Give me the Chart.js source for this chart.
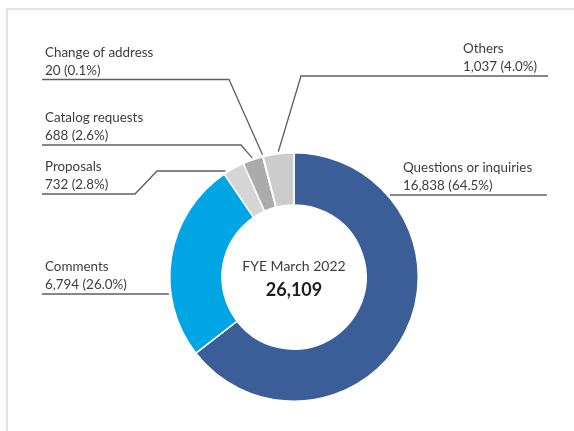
<!DOCTYPE html>
<html>
<head>
<meta charset="utf-8">
<title>Inquiries by type</title>
<script src="https://cdn.jsdelivr.net/npm/chart.js@4.4.1/dist/chart.umd.min.js"></script>
<style>
  html, body { margin: 0; padding: 0; background: #fff; }
  body { width: 574px; height: 431px; position: relative; overflow: hidden; }
  #frame {
    position: absolute; left: 6px; top: 8px; right: 0; bottom: 0;
    border-left: 2px solid #e3e3e3; border-top: 2px solid #e3e3e3;
  }
  #inquiryChart { position: absolute; left: 0; top: 0; }
</style>
</head>
<body>
<div id="frame"></div>
<canvas id="inquiryChart" width="574" height="431"></canvas>
<script>
// inquiry counts, FYE March 2022
var categories = ['Questions or inquiries', 'Comments', 'Proposals', 'Catalog requests', 'Change of address', 'Others'];
var counts = [16838, 6794, 732, 688, 20, 1037];
var sliceColors = ['#3b5e99', '#00a5e3', '#d5d5d5', '#ababab', '#8c8c8c', '#cccccc'];
var centerTitle = 'FYE March 2022';

// where each callout sits, and how its leader bends before reaching the ring
var calloutSpots = [
    { textX: 403, lineY: 195, knees: [[547, 195]], aim: 'level' },
    { textX: 45, lineY: 294, knees: [[42, 294]], aim: 'level' },
    { textX: 45, lineY: 194, knees: [[42, 194], [135, 194], [157, 171]], aim: 'level' },
    { textX: 45, lineY: 145, knees: [[42, 145], [241, 145]], aim: 'mid' },
    { textX: 45, lineY: 79.5, knees: [[42, 79.5], [229, 79.5]], aim: 'mid' },
    { textX: 463, lineY: 76, knees: [[548, 76], [301, 76]], aim: 'mid' }
];

var total = counts.reduce(function (a, b) { return a + b; }, 0);

function fmt(n) {
    return n.toLocaleString('en-US');
}

var calloutPlugin = {
    id: 'callouts',
    afterDraw: function (chart) {
        var ctx = chart.ctx;
        var meta = chart.getDatasetMeta(0);
        var gap = 2;
        ctx.save();

        for (var i = 0; i < meta.data.length; i++) {
            var arc = meta.data[i];
            var spot = calloutSpots[i];
            var r = arc.outerRadius + gap;
            var last = spot.knees[spot.knees.length - 1];
            var end;
            if (spot.aim === 'level') {
                var dy = last[1] - arc.y;
                var dx = Math.sqrt(r * r - dy * dy);
                end = [last[0] < arc.x ? arc.x - dx : arc.x + dx, last[1]];
            } else {
                var a = (arc.startAngle + arc.endAngle) / 2;
                end = [arc.x + Math.cos(a) * r, arc.y + Math.sin(a) * r];
            }

            ctx.strokeStyle = '#5f5f5f';
            ctx.lineWidth = 1.3;
            ctx.beginPath();
            ctx.moveTo(spot.knees[0][0], spot.knees[0][1]);
            for (var k = 1; k < spot.knees.length; k++) {
                ctx.lineTo(spot.knees[k][0], spot.knees[k][1]);
            }
            ctx.lineTo(end[0], end[1]);
            ctx.stroke();

            var pct = (counts[i] / total * 100).toFixed(1);
            ctx.fillStyle = '#3d3d3d';
            ctx.font = '13.4px Lato';
            ctx.textAlign = 'left';
            ctx.textBaseline = 'middle';
            ctx.fillText(categories[i], spot.textX, spot.lineY - 27);
            ctx.fillText(fmt(counts[i]) + ' (' + pct + '%)', spot.textX, spot.lineY - 9);
        }

        // title and total in the hole
        var c = meta.data[0];
        ctx.textAlign = 'center';
        ctx.fillStyle = '#3d3d3d';
        ctx.font = '14px Lato';
        ctx.fillText(centerTitle, c.x, c.y - 11);
        ctx.fillStyle = '#1e1e1e';
        ctx.font = 'bold 18px Lato';
        ctx.fillText(fmt(total), c.x, c.y + 13);
        ctx.restore();
    }
};

var inquiryChart = new Chart(document.getElementById('inquiryChart'), {
    type: 'doughnut',
    data: {
        labels: categories,
        datasets: [{
            data: counts,
            backgroundColor: sliceColors,
            borderColor: '#ffffff',
            borderWidth: 1.5
        }]
    },
    options: {
        responsive: false,
        animation: false,
        cutout: '58%',
        layout: {
            padding: { top: 152, bottom: 29, left: 169, right: 155 }
        },
        plugins: {
            legend: { display: false },
            tooltip: { enabled: false }
        }
    },
    plugins: [calloutPlugin]
});
</script>
</body>
</html>
